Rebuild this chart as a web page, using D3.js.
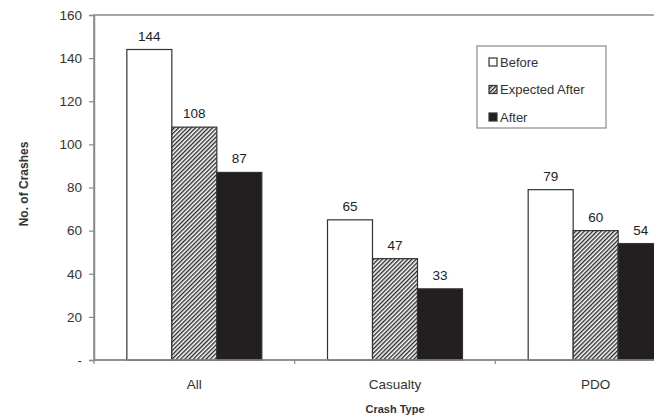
<!DOCTYPE html>
<html><head><meta charset="utf-8">
<script src="https://cdn.jsdelivr.net/npm/d3@7"></script>
<style>body{margin:0;background:#fff;} text{font-family:"Liberation Sans",Arial,sans-serif;}</style>
</head><body>
<svg id="c" width="654" height="418"></svg>
<script>
const categories = ["All", "Casualty", "PDO"];
const seriesNames = ["Before", "Expected After", "After"];
const before = [144, 65, 79];
const expectedAfter = [108, 47, 60];
const after = [87, 33, 54];
const yTicks = [0, 20, 40, 60, 80, 100, 120, 140, 160];
const yTickLabels = ["-", "20", "40", "60", "80", "100", "120", "140", "160"];

(function () {
const series = [before, expectedAfter, after];
const svg = d3.select("#c");
const defs = svg.append("defs");
const pat = defs.append("pattern").attr("id", "hatch").attr("patternUnits", "userSpaceOnUse")
  .attr("width", 3).attr("height", 3).attr("patternTransform", "rotate(45)");
pat.append("rect").attr("width", 3).attr("height", 3).attr("fill", "#fff");
pat.append("rect").attr("x", 0).attr("width", 1.4).attr("height", 3).attr("fill", "#2a2a2a");
const fills = ["#fff", "url(#hatch)", "#231f20"];

const pLeft = 94, pTop = 15, pBottom = 360, plotW = 602;
const x = d3.scaleBand().domain(categories).range([pLeft, pLeft + plotW]).paddingInner(0).paddingOuter(0);
const xs = d3.scaleBand().domain(seriesNames).range([0, x.bandwidth()]).paddingInner(0).paddingOuter(0.73);
const y = d3.scaleLinear().domain([0, 160]).range([pBottom, pTop]);

svg.append("rect").attr("x", pLeft).attr("y", pTop).attr("width", plotW).attr("height", pBottom - pTop)
  .attr("fill", "none").attr("stroke", "#8a8a8a").attr("stroke-width", 1.5);

seriesNames.forEach((s, si) => {
  const g = svg.append("g");
  g.selectAll("rect").data(categories).join("rect")
    .attr("x", c => x(c) + xs(s))
    .attr("y", (c, i) => y(series[si][i]))
    .attr("width", xs.bandwidth())
    .attr("height", (c, i) => pBottom - y(series[si][i]))
    .attr("fill", fills[si]).attr("stroke", "#333").attr("stroke-width", 1.2);
  g.selectAll("text").data(categories).join("text")
    .attr("x", c => x(c) + xs(s) + xs.bandwidth() / 2)
    .attr("y", (c, i) => y(series[si][i]) - 9)
    .attr("text-anchor", "middle").attr("font-size", 13.5).attr("fill", "#222")
    .text((c, i) => series[si][i]);
});

const ya = d3.axisLeft(y).tickValues(yTicks).tickSize(5).tickPadding(7)
  .tickFormat((d, i) => yTickLabels[i]);
const yg = svg.append("g").attr("transform", `translate(${pLeft},0)`).call(ya);
yg.select(".domain").attr("stroke", "#8a8a8a").attr("stroke-width", 1.5);
yg.selectAll(".tick line").attr("stroke", "#8a8a8a").attr("stroke-width", 1.2);
yg.selectAll(".tick text").attr("font-size", 13.5).attr("fill", "#333")
  .attr("font-family", "Liberation Sans, Arial, sans-serif");

const xBoundaries = [0, 1, 2].map(i => pLeft + i * x.step());
svg.append("line").attr("x1", pLeft).attr("x2", pLeft + plotW).attr("y1", pBottom).attr("y2", pBottom)
  .attr("stroke", "#8a8a8a").attr("stroke-width", 1.5);
svg.selectAll(".xt").data(xBoundaries).join("line").attr("class", "xt")
  .attr("x1", d => d).attr("x2", d => d).attr("y1", pBottom).attr("y2", pBottom + 4)
  .attr("stroke", "#8a8a8a").attr("stroke-width", 1.2);
svg.selectAll(".xl").data(categories).join("text").attr("class", "xl")
  .attr("x", c => x(c) + x.bandwidth() / 2).attr("y", 389)
  .attr("text-anchor", "middle").attr("font-size", 13.5).attr("fill", "#333").text(c => c);

svg.append("text").attr("x", 395).attr("y", 413).attr("text-anchor", "middle")
  .attr("font-size", 11).attr("font-weight", "bold").attr("fill", "#333").text("Crash Type");
svg.append("text").attr("transform", "translate(28,184) rotate(-90)").attr("text-anchor", "middle")
  .attr("font-size", 12).attr("font-weight", "bold").attr("fill", "#333").text("No. of Crashes");

const lg = svg.append("g");
lg.append("rect").attr("x", 477).attr("y", 46).attr("width", 129).attr("height", 82)
  .attr("fill", "#fff").attr("stroke", "#8a8a8a").attr("stroke-width", 1.2);
seriesNames.forEach((s, i) => {
  const yy = 62 + i * 27.5;
  lg.append("rect").attr("x", 489).attr("y", yy - 4).attr("width", 8).attr("height", 8)
    .attr("fill", fills[i]).attr("stroke", "#333").attr("stroke-width", 1.2);
  lg.append("text").attr("x", 500).attr("y", yy + 4.5).attr("font-size", 13).attr("fill", "#333").text(s);
});
})();
</script>
</body></html>
